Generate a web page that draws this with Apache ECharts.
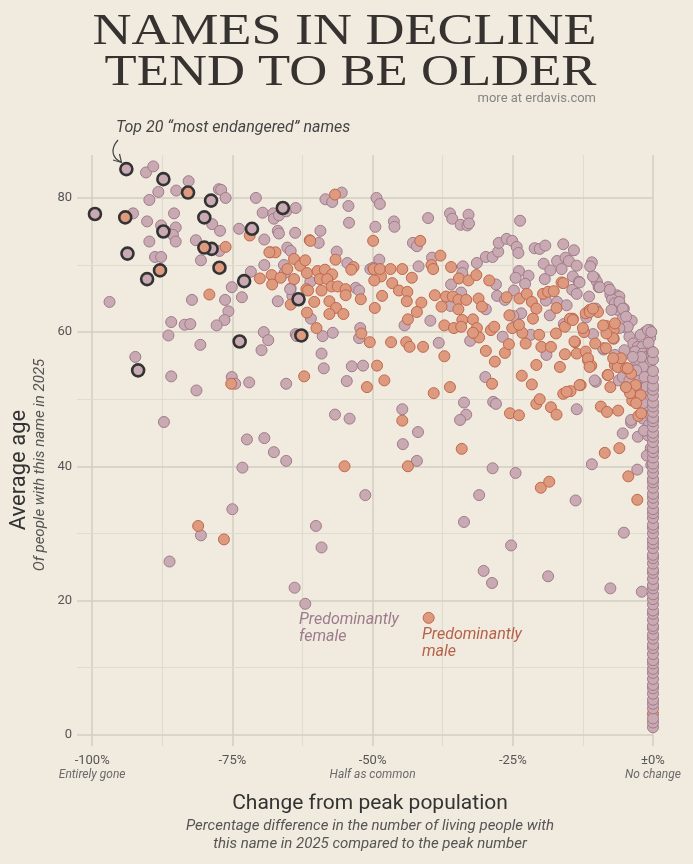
<!DOCTYPE html>
<html>
<head>
<meta charset="utf-8">
<script src="https://cdn.jsdelivr.net/npm/echarts@6/dist/echarts.min.js"></script>
<style>
  html, body { margin: 0; padding: 0; background: #f1ebdf; }
  #chart { width: 693px; height: 864px; }
</style>
</head>
<body>
<div id="chart"></div>
<script>
// [change from peak %, average age]
const femaleNames = [
  [-90.4,83.8],[-89.1,84.7],[-82.8,82.5],[-88.2,80.9],[-85.0,81.1],[-77.4,81.3],[-77.0,81.2],[-89.8,79.7],[-76.2,80.0],[-70.8,80.0],
  [-92.7,77.7],[-85.4,77.7],[-90.2,76.5],[-87.7,75.9],[-85.1,75.6],[-85.6,74.5],[-85.1,73.5],[-89.8,73.5],[-81.5,73.7],[-78.6,76.1],
  [-77.2,75.1],[-73.8,75.4],[-69.6,77.8],[-67.7,77.7],[-67.6,76.9],[-66.7,77.4],[-65.4,78.0],[-63.7,78.5],[-66.9,75.1],[-66.7,74.7],
  [-63.8,74.8],[-69.3,73.8],[-65.2,72.6],[-68.2,71.9],[-88.8,71.2],[-87.7,71.2],[-80.6,70.7],[-77.3,72.1],[-71.7,69.0],[-69.3,70.0],
  [-65.8,70.0],[-75.1,66.7],[-73.3,65.2],[-82.2,64.8],[-76.3,64.8],[-75.7,63.1],[-76.4,61.8],[-77.8,61.0],[-96.9,64.5],[-85.9,61.5],
  [-86.4,59.5],[-83.5,61.1],[-82.5,61.2],[-80.7,58.1],[-69.4,60.0],[-68.6,58.8],[-69.8,57.3],[-66.9,64.6],[-64.3,65.4],[-64.6,66.5],
  [-63.7,59.7],[-92.3,56.3],[-85.9,53.4],[-81.4,51.3],[-75.1,53.3],[-74.5,52.3],[-72.0,52.5],[-65.4,52.3],[-65.7,68.8],
  [-87.2,46.6],[-72.4,44.0],[-69.3,44.2],[-67.6,42.1],[-65.4,40.8],[-73.2,39.8],[-75.0,33.6],[-80.6,29.7],[-86.2,25.8],[-60.1,31.1],
  [-59.1,27.9],[-63.9,21.9],[-62.0,19.5],[-56.7,47.7],[-54.1,47.1],
  [-54.6,52.7],[-44.7,48.5],[-41.9,45.1],[-44.6,43.3],[-42.1,40.8],[-51.3,35.7],[-33.7,49.5],[-33.3,47.7],[-34.4,46.9],[-28.6,39.7],
  [-24.5,39.0],[-31.0,35.7],[-33.7,31.7],[-25.3,28.2],[-30.2,24.4],[-28.7,22.6],[-18.7,23.6],[-28.5,49.6],[-28.0,49.3],
  [-13.6,48.5],[-5.4,44.9],[-10.9,40.3],[-13.8,34.9],[-5.2,30.1],[-7.6,21.8],[-2.0,21.3],[-3.9,46.5],[-2.8,39.5],
  [-58.4,79.8],[-57.2,79.4],[-55.5,80.8],[-54.3,78.8],[-54.2,76.3],[-59.3,75.1],[-59.6,73.3],[-64.6,72.1],[-56.4,72.0],[-54.5,70.3],
  [-49.3,80.0],[-48.7,79.1],[-49.5,75.7],[-46.2,76.5],[-46.1,75.7],[-48.8,70.8],[-50.4,69.4],[-49.9,69.6],[-40.1,77.0],[-36.2,77.7],
  [-35.8,76.9],[-34.3,76.0],[-33.1,75.9],[-32.9,77.5],[-32.8,76.2],[-42.8,73.3],[-42.1,72.8],[-39.4,71.1],[-41.8,69.8],[-33.9,69.8],
  [-31.4,70.3],[-29.8,71.2],[-28.6,71.2],[-34.0,68.8],[-36.0,67.1],[-34.2,65.9],[-28.0,67.1],[-27.8,65.4],[-36.1,63.9],[-29.8,63.4],
  [-39.7,61.7],[-44.3,61.0],[-61.1,67.5],[-64.7,66.4],[-61.0,62.0],[-58.9,59.4],[-57.1,59.9],[-52.2,60.6],[-52.4,59.1],[-53.0,66.6],
  [-52.4,66.2],[-59.1,56.8],[-58.7,54.6],[-53.7,54.9],[-51.7,55.0],[-38.2,58.4],[-32.6,58.7],[-29.9,53.3],[-27.6,72.0],[-63.5,59.4],
  [-23.7,76.6],[-27.5,73.3],[-26.1,73.9],[-25.1,73.6],[-24.3,72.7],[-24.0,71.8],[-21.1,72.5],[-20.2,72.4],[-19.2,72.9],[-16.0,73.1],
  [-14.1,72.2],[-19.5,70.2],[-23.9,69.1],[-22.2,68.4],[-24.5,68.1],[-22.8,67.2],[-24.8,66.2],[-18.3,69.2],[-17.1,70.6],[-16.3,69.4],
  [-15.6,71.1],[-15.0,70.6],[-13.6,69.9],[-10.9,70.4],[-11.2,69.8],[-19.3,67.9],[-14.3,68.3],[-13.2,67.5],[-14.4,66.3],[-13.6,65.7],
  [-11.4,65.3],[-10.4,68.1],[-10.0,67.5],[-9.7,66.7],[-8.0,66.7],[-7.6,65.6],[-6.5,65.5],[-6.0,65.3],[-7.3,64.9],[-6.8,64.3],
  [-5.7,63.8],[-5.2,63.5],[-6.3,63.3],[-7.4,63.3],[-19.1,64.7],[-17.1,64.5],[-15.4,64.0],[-18.4,62.5],[-23.5,62.8],[-24.9,62.4],
  [-26.4,64.8],[-11.9,62.2],[-10.2,63.5],[-5.4,62.0],[-3.8,61.7],[-4.7,60.6],[-1.4,60.0],[-0.6,60.3],[-7.0,59.0],[-10.7,59.7],
  [-15.9,61.2],[-21.8,59.6],[-26.8,59.3],[-19.0,56.6],[-8.8,57.4],[-6.8,56.6],[-4.2,59.3],[-3.5,58.3],[-2.7,57.8],[-1.9,57.8],
  [-3.2,57.1],[-1.8,56.8],[-3.0,55.8],[-1.2,56.3],[-0.2,57.1],[-1.2,55.1],[-2.4,54.3],[-0.9,53.8],[-6.1,52.8],[-5.4,53.3],
  [-4.8,51.8],[-10.2,52.6],[-1.8,51.6],[-1.4,49.8],[-1.4,48.4],[-1.8,47.1],[-3.9,46.9],[-2.7,44.4],[-0.9,44.6],
  [-0.5,59.2],[-0.8,58.4],[-2.2,59.6],[-0.4,55.6],[-2.9,52.9],[-0.6,50.9],[-2.4,50.1],[-0.7,46.2],[-1.6,45.3],[-0.4,42.7],
  [-1.1,41.6],[-0.3,40.2],
  [-13.1,67.4],[-10.7,68.3],[-9.5,66.7],[-7.7,66.3],[-6.0,64.5],[-5.4,63.5],[-4.8,62.3],[-4.5,60.8],[-2.4,55.8],[-1.8,54.8],
  [-1.5,53.3],[-1.2,51.8],[-1.2,50.3],[-0.6,48.9],[-0.3,47.4],[-0.9,60.3],[-0.3,60.0],[-2.1,56.3],[-6.0,60.6],[-7.1,59.1],
  [-8.9,57.6],[-10.4,52.8],[-5.1,57.3],[-3.6,56.3],[-3.0,54.3],[-4.2,52.8],[-3.0,51.8],[-1.8,49.4]
];

const maleNames = [
  [-71.9,74.4],[-76.2,72.7],[-79.1,65.6],[-70.1,68.0],[-68.0,68.5],[-67.9,67.1],[-66.4,68.1],[-64.0,70.9],[-62.9,69.9],[-62.0,70.7],
  [-64.6,64.1],[-61.7,62.9],[-67.3,71.9],[-68.4,71.9],[-65.2,69.4],[-64.0,67.9],[-61.2,73.7],[-75.2,52.3],[-62.2,53.4],[-61.8,66.4],
  [-81.1,31.1],[-76.5,29.1],[-55.0,40.0],
  [-51.0,51.8],[-47.9,52.8],[-39.1,50.9],[-36.2,51.8],[-44.7,46.8],[-34.1,42.6],[-43.7,40.0],[-28.7,52.3],[-21.6,52.2],[-25.5,47.9],
  [-23.9,47.6],[-20.8,49.3],[-20.2,50.0],[-18.2,48.8],[-17.2,47.7],[-20.0,36.8],[-18.5,37.7],[-40.0,17.4],
  [-9.3,48.9],[-8.2,48.1],[-6.2,48.3],[-8.6,42.0],[-6.0,42.7],[-4.4,38.5],[-2.8,35.0],[0,3.1],
  [-56.7,80.5],[-61.1,73.6],[-49.9,73.6],[-41.5,73.6],[-56.6,70.8],[-61.7,68.8],[-59.8,69.1],[-58.5,69.3],[-57.2,68.6],[-59.4,67.9],
  [-58.1,67.9],[-57.3,66.8],[-56.2,66.8],[-54.8,66.4],[-59.1,66.2],[-61.5,66.2],[-60.4,64.5],[-54.8,65.5],[-53.4,69.7],[-53.8,69.3],
  [-57.7,64.6],[-56.5,63.6],[-57.7,62.7],[-55.2,62.7],[-60.0,60.6],[-52.1,64.9],[-49.6,63.6],[-49.8,69.4],[-48.5,68.3],[-49.7,67.7],
  [-48.7,69.4],[-46.8,69.4],[-44.7,69.4],[-43.0,68.1],[-46.5,67.3],[-48.3,65.4],[-45.3,66.2],[-43.8,66.0],[-43.9,64.6],[-41.3,64.4],
  [-42.1,63.0],[-43.7,61.9],[-52.0,59.8],[-50.5,58.5],[-46.7,58.5],[-44.0,58.5],[-43.4,57.8],[-41.0,57.8],[-37.2,56.4],[-49.2,55.0],
  [-39.5,70.0],[-39.2,69.4],[-37.9,71.4],[-36.0,69.7],[-38.9,65.5],[-36.9,65.3],[-35.7,65.3],[-34.7,64.8],[-33.3,64.8],[-34.6,68.0],
  [-32.9,67.7],[-31.5,68.5],[-29.2,67.7],[-31.1,65.0],[-30.5,63.8],[-37.7,63.8],[-34.7,63.4],[-34.0,61.8],[-32.1,61.9],[-37.2,61.0],
  [-35.5,60.6],[-34.2,60.8],[-31.4,60.6],[-31.0,59.2],[-32.1,59.9],[-28.9,60.3],[-28.3,60.8],[-29.8,57.2],[-28.2,55.6],
  [-26.4,56.9],[-25.7,58.2],[-22.7,58.3],[-23.3,59.9],[-25.1,60.6],[-23.9,61.1],[-26.1,65.2],[-25.6,62.5],[-23.8,65.0],[-22.5,65.7],
  [-21.6,64.5],[-20.8,63.5],[-21.4,62.0],[-19.6,65.7],[-18.7,66.0],[-17.7,66.1],[-16.3,67.4],[-17.2,63.6],[-17.3,59.8],[-20.3,59.6],
  [-19.9,57.8],[-18.2,57.8],[-16.6,54.8],[-20.8,55.1],[-23.4,53.5],[-16.0,50.8],[-14.7,51.2],[-12.9,52.1],[-15.7,60.8],[-14.3,62.0],
  [-12.3,60.0],[-13.9,58.5],[-15.7,56.7],[-13.6,56.8],[-12.0,57.1],[-11.6,55.8],[-11.0,55.0],[-10.3,58.3],[-8.3,60.9],[-7.0,60.3],
  [-7.1,59.1],[-8.4,57.6],[-6.8,55.1],[-8.1,53.6],[-7.6,51.8],[-6.3,54.8],[-5.7,56.1],[-4.8,54.6],[-3.9,53.8],[-3.7,49.8],
  [-12.0,62.8],[-11.3,63.3],[-9.8,63.0],[-8.3,59.8],[-14.8,62.0],[-3.1,52.1],[-2.2,50.6],[-4.1,50.9],[-2.6,47.5],
  [-16.0,67.3],[-14.3,61.8],[-12.5,60.6],[-14.0,58.6],[-11.6,56.1],[-11.3,54.8],[-8.9,61.0],[-6.8,61.3],[-7.1,56.1],[-4.5,54.6],
  [-8.0,53.6],[-4.8,51.8],[-3.0,49.4],[-2.1,47.9],[-15.4,51.1],[-13.1,52.1],[-11.3,63.0],[-10.7,63.5]
];

// names that have not declined at all (column at ±0%)
const noChangeAges = [
  1.1, 1.8, 2.4, 3.9, 4.6, 5.2, 6.1, 6.9, 7.4, 8.3, 9.2, 9.8, 10.6, 11.1, 12.0, 12.9, 13.4, 14.3, 14.9, 15.8,
  16.2, 17.1, 18.0, 18.5, 19.4, 20.2, 20.9, 21.8, 22.3, 23.2, 24.1, 24.6, 25.5, 26.3, 26.8, 27.8, 28.5, 29.1, 30.0, 30.8,
  31.3, 32.3, 33.0, 33.6, 34.5, 35.3, 35.9, 36.8, 37.6, 38.1, 39.0, 39.8, 40.4, 41.3, 42.1, 42.7, 43.6, 44.4, 45.0, 45.9,
  46.7, 47.2, 48.1, 48.9, 49.5, 50.5, 51.4, 52.0, 53.1, 54.2, 55.9, 57.0
];

// top 20 "most endangered" names
const topFemale = [
  [-93.9,84.3],[-87.3,82.8],[-78.8,79.6],[-66.0,78.5],[-99.5,77.6],[-80.0,77.1],[-87.3,75.0],[-71.5,75.4],
  [-78.7,72.4],[-93.7,71.7],[-72.9,67.6],[-90.2,67.9],[-63.2,64.9],[-73.7,58.6],[-91.8,54.3]
];
const topMale = [
  [-82.9,80.8],[-94.1,77.1],[-80.0,72.6],[-77.3,69.6],[-87.9,69.2],[-62.7,59.5]
];

const xGridValues = [-100, -87.5, -75, -62.5, -50, -37.5, -25, -12.5, 0];
const xTicks = [-100, -75, -50, -25, 0];
const xTickLabels = ['-100%', '-75%', '-50%', '-25%', '±0%'];
const xTickNotes = ['Entirely gone', '', 'Half as common', '', 'No change'];
const yGridValues = [0, 10, 20, 30, 40, 50, 60, 70, 80];
const yTicks = [0, 20, 40, 60, 80];

const FEMALE = { fill: '#c9aab2', line: '#9f7b8b' };
const MALE = { fill: '#dd9a7e', line: '#c0684c' };
const SANS = 'Roboto, "Noto Sans", sans-serif';
const SERIF = '"Liberation Serif", "Times New Roman", serif';

const chart = echarts.init(document.getElementById('chart'));

const gridLines = [].concat(
  xGridValues.map(v => ({
    xAxis: v,
    lineStyle: { color: v % 25 === 0 ? '#d2cec2' : '#e0dbcf', width: v % 25 === 0 ? 1.5 : 1.2, type: 'solid' }
  })),
  yGridValues.map(v => ({
    yAxis: v,
    lineStyle: { color: v % 20 === 0 ? '#d2cec2' : '#e0dbcf', width: v % 20 === 0 ? 1.5 : 1.2, type: 'solid' }
  }))
);

function dotSeries (data, c, z) {
  return {
    type: 'scatter',
    data: data,
    z: z,
    clip: false,
    symbolSize: 11,
    itemStyle: { color: c.fill, borderColor: c.line, borderWidth: 1, opacity: 1 },
    emphasis: { disabled: true },
    silent: true
  }
}

function topSeries (data, c) {
  return {
    type: 'scatter',
    data: data,
    z: 6,
    clip: false,
    symbolSize: 12,
    itemStyle: { color: c.fill, borderColor: '#333', borderWidth: 2.6, opacity: 1 },
    emphasis: { disabled: true },
    silent: true
  }
}

const option = {
  backgroundColor: '#f1ebdf',
  animation: false,
  grid: { left: 77, right: 40, top: 155, bottom: 118 },
  xAxis: {
    type: 'value',
    min: -102.7,
    max: 0,
    axisLine: { show: false },
    axisTick: { show: false },
    splitLine: { show: false },
    axisLabel: {
      customValues: xTicks,
      margin: 7,
      formatter: (v) => {
        const i = xTicks.indexOf(v);
        if (i < 0) return '';
        return xTickNotes[i] ? '{a|' + xTickLabels[i] + '}\n{b|' + xTickNotes[i] + '}' : '{a|' + xTickLabels[i] + '}';
      },
      rich: {
        a: { fontFamily: SANS, fontSize: 13, color: '#555', lineHeight: 15 },
        b: { fontFamily: SANS, fontSize: 12, fontStyle: 'italic', color: '#6a6a6a', lineHeight: 14 }
      }
    }
  },
  yAxis: {
    type: 'value',
    min: -1.7,
    max: 86.4,
    axisLine: { show: false },
    axisTick: { show: false },
    splitLine: { show: false },
    axisLabel: {
      customValues: yTicks,
      margin: 5,
      fontFamily: SANS,
      fontSize: 13,
      color: '#555'
    }
  },
  series: [
    {
      type: 'scatter',
      data: [],
      silent: true,
      markLine: {
        silent: true,
        z: 1,
        symbol: ['none', 'none'],
        label: { show: false },
        emphasis: { disabled: true },
        animation: false,
        data: gridLines
      }
    },
    dotSeries(femaleNames, FEMALE, 2),
    dotSeries(maleNames, MALE, 3),
    dotSeries(noChangeAges.map(a => [0, a]), FEMALE, 4),
    topSeries(topFemale, FEMALE),
    topSeries(topMale, MALE)
  ],
  graphic: [
    {
      type: 'text', x: 344.5, y: 32.5, scaleX: 1.2, z: 10,
      style: { text: 'NAMES IN DECLINE', fontFamily: SERIF, fontSize: 45, fill: '#353230', textAlign: 'center', textVerticalAlign: 'middle' }
    },
    {
      type: 'text', x: 350.5, y: 73.5, scaleX: 1.17, z: 10,
      style: { text: 'TEND TO BE OLDER', fontFamily: SERIF, fontSize: 45, fill: '#353230', textAlign: 'center', textVerticalAlign: 'middle' }
    },
    {
      type: 'text', x: 596, y: 99, z: 10,
      style: { text: 'more at erdavis.com', font: '13px ' + SANS, fill: '#858585', textAlign: 'right', textVerticalAlign: 'middle' }
    },
    {
      type: 'text', x: 116, y: 128, z: 10,
      style: { text: 'Top 20 “most endangered” names', font: 'italic 16px ' + SANS, fill: '#444', textAlign: 'left', textVerticalAlign: 'middle' }
    },
    {
      type: 'bezierCurve', z: 10,
      shape: { x1: 118, y1: 140, cpx1: 110, cpy1: 149, cpx2: 112, cpy2: 158, x2: 121, y2: 162 },
      style: { stroke: '#444', lineWidth: 1.2, fill: null }
    },
    {
      type: 'polyline', z: 10,
      shape: { points: [[113, 160], [121.5, 162.5], [119.5, 154]] },
      style: { stroke: '#444', lineWidth: 1.2, fill: null }
    },
    {
      type: 'text', x: 299, y: 611, z: 10,
      style: { text: 'Predominantly\nfemale', font: 'italic 16px ' + SANS, lineHeight: 17, fill: '#9d7a8c', textAlign: 'left', textVerticalAlign: 'top' }
    },
    {
      type: 'text', x: 422, y: 626, z: 10,
      style: { text: 'Predominantly\nmale', font: 'italic 16px ' + SANS, lineHeight: 17.5, fill: '#b5614a', textAlign: 'left', textVerticalAlign: 'top' }
    },
    {
      type: 'text', x: 19, y: 470, rotation: Math.PI / 2, z: 10,
      style: { text: 'Average age', font: '22px ' + SANS, fill: '#333', textAlign: 'center', textVerticalAlign: 'middle' }
    },
    {
      type: 'text', x: 40, y: 465, rotation: Math.PI / 2, z: 10,
      style: { text: 'Of people with this name in 2025', font: 'italic 15px ' + SANS, fill: '#555', textAlign: 'center', textVerticalAlign: 'middle' }
    },
    {
      type: 'text', x: 370, y: 804, z: 10,
      style: { text: 'Change from peak population', font: '21px ' + SANS, fill: '#333', textAlign: 'center', textVerticalAlign: 'middle' }
    },
    {
      type: 'text', x: 370, y: 835, z: 10,
      style: {
        text: 'Percentage difference in the number of living people with\nthis name in 2025 compared to the peak number',
        font: 'italic 15px ' + SANS, lineHeight: 18, fill: '#555', textAlign: 'center', textVerticalAlign: 'middle'
      }
    }
  ]
};

chart.setOption(option);
</script>
</body>
</html>
